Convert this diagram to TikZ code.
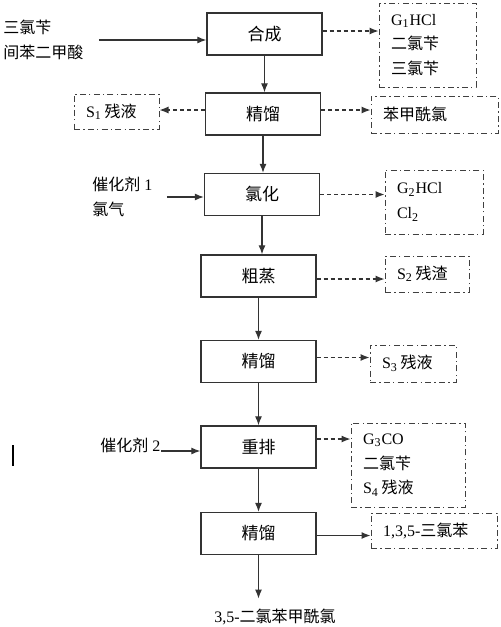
\documentclass[tikz,border=0pt]{standalone}
\usepackage{fontspec}
\setmainfont{Liberation Serif}
\newfontfamily\cjk{Noto Sans CJK SC}
\usetikzlibrary{arrows.meta}
\newcommand\zh[1]{{\cjk #1}}
\tikzset{
  procbox/.style={draw=black!80, line width=0.65pt, minimum width=57.5pt, minimum height=21pt, inner sep=0pt, font=\fontsize{8.5}{10}\selectfont\cjk},
  outbox/.style={draw=black!75, line width=0.5pt, dash pattern=on 3pt off 1.6pt on 0.7pt off 1.6pt, inner xsep=6pt, inner ysep=0pt, align=left, text width=#1, font=\fontsize{8}{12.4}\selectfont},
  feedtext/.style={inner sep=0pt, align=left, anchor=west, font=\fontsize{8}{12.8}\selectfont},
  flow/.style={-{Latex[length=4.5pt,width=3.5pt]}, draw=black!80, line width=0.6pt},
  side/.style={flow, dash pattern=on 2pt off 1.5pt}
}
\begin{document}
\begin{tikzpicture}[x=0.5pt,y=-0.5pt]
\useasboundingbox (0,0) rectangle (500,627);
%\draw [help lines] (0,0) grid (500,627);
\node [procbox] (hecheng) at (264.5,34) {合成};
\node [procbox] (jingliuA) at (263,114) {精馏};
\node [procbox] (lvhua) at (262,194.5) {氯化};
\node [procbox] (cuzheng) at (258.5,276) {粗蒸};
\node [procbox] (jingliuB) at (258.5,361.5) {精馏};
\node [procbox] (chongpai) at (258.5,447) {重排};
\node [procbox] (jingliuC) at (258.5,533.5) {精馏};
\node [inner sep=0pt, font=\fontsize{8}{10}\selectfont] (product) at (275,617) {3,5-\zh{二氯苯甲酰氯}};

\node [feedtext] (feed) at (3,40) {\zh{三氯苄}\\\zh{间苯二甲酸}};
\node [feedtext] (catA) at (92,197) {\zh{催化剂} 1\\\zh{氯气}};
\node [feedtext] (catB) at (100,445) {\zh{催化剂} 2};

\node [outbox=36.5pt, minimum height=42pt] (gasA) at (427.5,45) {G\textsubscript{1}HCl\\\zh{二氯苄}\\\zh{三氯苄}};
\node [outbox=51.5pt, minimum height=18.5pt] (bzcl) at (434.5,114.5) {\zh{苯甲酰氯}};
\node [outbox=30.5pt, minimum height=17.5pt] (resA) at (116.5,111.5) {S\textsubscript{1}\,\zh{残液}};
\node [outbox=37pt, minimum height=32pt] (gasB) at (434,202) {G\textsubscript{2}HCl\\Cl\textsubscript{2}};
\node [outbox=30pt, minimum height=18pt] (resB) at (427,274) {S\textsubscript{2}\,\zh{残渣}};
\node [outbox=31pt, minimum height=18.5pt] (resC) at (413,363.5) {S\textsubscript{3}\,\zh{残液}};
\node [outbox=45pt, minimum height=42pt] (gasC) at (408,465) {G\textsubscript{3}CO\\\zh{二氯苄}\\S\textsubscript{4}\,\zh{残液}};
\node [outbox=51pt, minimum height=17.5pt] (tcb) at (434,530.5) {1,3,5-\zh{三氯苯}};

\draw [flow] (hecheng.south) -- (hecheng.south |- jingliuA.north);
\draw [flow] (jingliuA.south) -- (jingliuA.south |- lvhua.north);
\draw [flow] (lvhua.south) -- (lvhua.south |- cuzheng.north);
\draw [flow] (cuzheng.south) -- (cuzheng.south |- jingliuB.north);
\draw [flow] (jingliuB.south) -- (jingliuB.south |- chongpai.north);
\draw [flow] (chongpai.south) -- (chongpai.south |- jingliuC.north);
\draw [flow] (jingliuC.south) -- ([yshift=5pt]jingliuC.south |- product.north);

\draw [flow] ([xshift=7.5pt]feed.east) -- (feed.east -| hecheng.west);
\draw [flow] ([xshift=7pt]catA.east) -- (catA.east -| lvhua.west);
\draw [flow] ([yshift=-3pt]catB.east) -- ([yshift=-3pt]catB.east -| chongpai.west);

\draw [side] ([yshift=1.5pt]hecheng.east) -- ([yshift=1.5pt]hecheng.east -| gasA.west);
\draw [side] ([yshift=2pt]jingliuA.east) -- ([yshift=2pt]jingliuA.east -| bzcl.west);
\draw [side] ([yshift=2pt]jingliuA.west) -- ([yshift=2pt]jingliuA.west -| resA.east);
\draw [side] (lvhua.east) -- (lvhua.east -| gasB.west);
\draw [side] ([yshift=-1.5pt]cuzheng.east) -- ([yshift=-1.5pt]cuzheng.east -| resB.west);
\draw [side] ([yshift=2pt]jingliuB.east) -- ([yshift=2pt]jingliuB.east -| resC.west);
\draw [side] ([yshift=4pt]chongpai.east) -- ([yshift=4pt]chongpai.east -| gasC.west);
\draw [flow] ([yshift=-1pt]jingliuC.east) -- ([yshift=-1pt]jingliuC.east -| tcb.west);

\draw [line width=1pt] (13,445) -- (13,466);
\end{tikzpicture}
\end{document}
